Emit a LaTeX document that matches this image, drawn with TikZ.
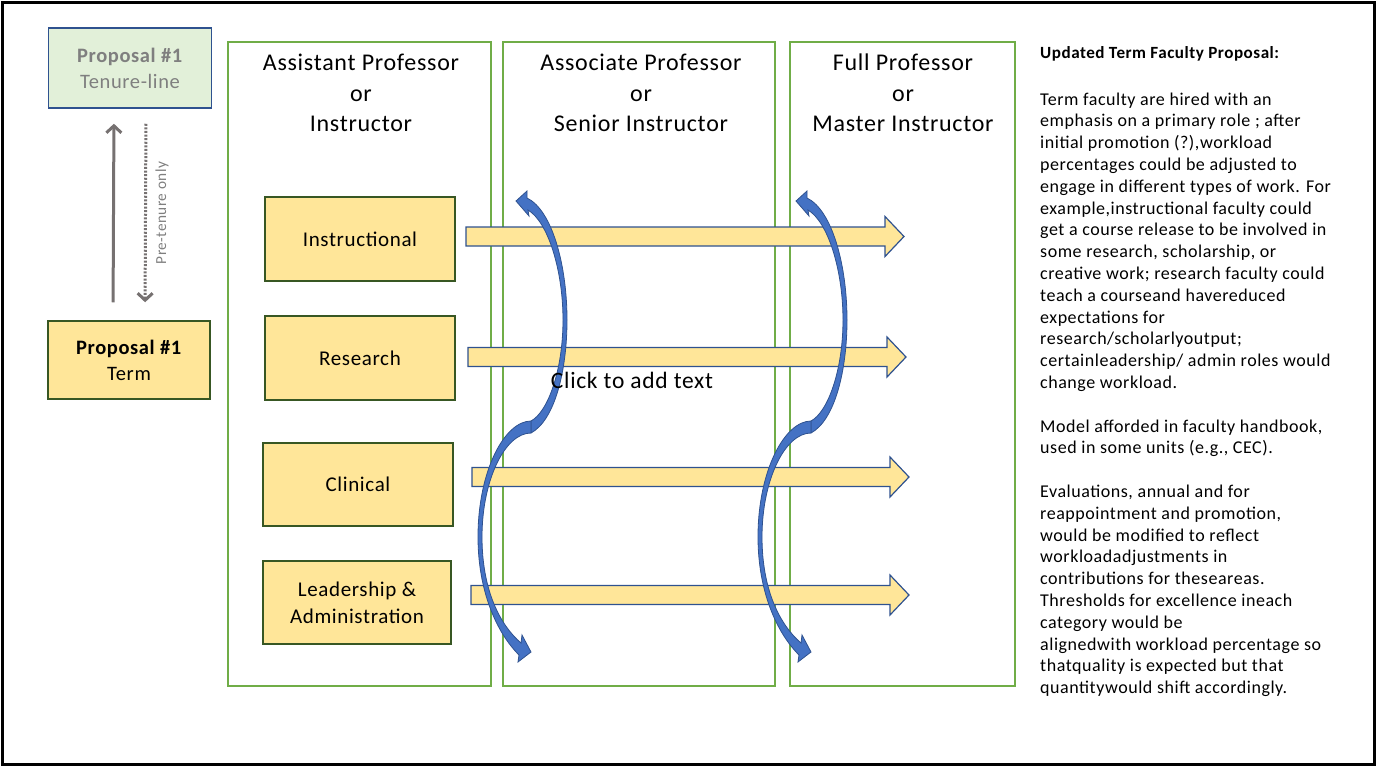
\documentclass[tikz,border=0pt]{standalone}
\usepackage{fontspec}
\setmainfont[LetterSpace=3]{Carlito}
\usetikzlibrary{arrows.meta}
\definecolor{colgreen}{HTML}{70AD47}
\definecolor{boxyellow}{HTML}{FFE699}
\definecolor{boxborder}{HTML}{385723}
\definecolor{tenfill}{HTML}{E2F0D9}
\definecolor{tenborder}{HTML}{2F528F}
\definecolor{graytext}{HTML}{7F7F7F}
\definecolor{grayarrow}{HTML}{767171}
\definecolor{bluefill}{HTML}{4472C4}
\definecolor{blueborder}{HTML}{2F528F}
\tikzset{
  colbox/.style={draw=colgreen, line width=1.5},
  header/.style={align=center, inner sep=0, font=\fontsize{24}{30.5}\selectfont},
  catbox/.style={draw=boxborder, fill=boxyellow, line width=1.5, align=center, inner sep=0,
     font=\fontsize{21}{27}\selectfont},
  propbox/.style={line width=1.5, align=center, inner sep=0, minimum width=163, minimum height=80,
     font=\fontsize{20.5}{26}\selectfont},
  yarrow/.style={draw=blueborder, fill=boxyellow, line width=1.2},
  barrow/.style={draw=blueborder, fill=bluefill, line width=0.8},
  grayarr/.style={draw=grayarrow, line width=3, -{Straight Barb[length=7,width=15,line width=3]}},
  bodytext/.style={anchor=base west, inner sep=0, font=\fontsize{18}{21.8}\selectfont},
}
\newcommand{\yellowarrow}[4]{%
  \draw[yarrow] (#1,#3-9.5) -- (#2-19,#3-9.5) -- (#2-19,#3-20) -- (#2,#3) -- (#2-19,#3+20)
     -- (#2-19,#3+9.5) -- (#1,#3+9.5) -- cycle;}
\newcommand{\sarrow}[1]{%
  \begin{scope}[xshift=#1]
  \draw[barrow] (527,198) .. controls (552,210) and (567,265) .. (567,320)
     .. controls (567,370) and (555,420) .. (531,433) -- (531,421)
     .. controls (548,412) and (563,370) .. (563,320)
     .. controls (563,270) and (548,222) .. (528,210) -- (529,216) -- (516,201) -- (527,191) -- cycle;
  \draw[barrow] (531,421) .. controls (505,421) and (478,470) .. (478,537)
     .. controls (478,590) and (496,632) .. (519,655) -- (518,662) -- (531,652) -- (522,635) -- (521,643)
     .. controls (500,625) and (482,590) .. (482,537)
     .. controls (482,480) and (505,433) .. (531,433) -- cycle;
  \end{scope}}
\begin{document}
\begin{tikzpicture}[x=1pt,y=-1pt]
\useasboundingbox (0,0) rectangle (1377,766);
\draw[line width=3] (2,2) rectangle (1374.5,764);

% left proposal boxes
\node[propbox, draw=tenborder, fill=tenfill, text=graytext] (tl) at (130,68)
  {\textbf{Proposal \#1}\\Tenure-line};
\node[propbox, draw=boxborder, fill=boxyellow, minimum width=162, minimum height=78] (tm) at (129,360)
  {\textbf{Proposal \#1}\\Term};
\draw[grayarr] ([xshift=-16]tm.north) -- ([xshift=-16]tl.south) [shorten <=18, shorten >=15];
\draw[grayarr, dash pattern=on 2pt off 1.6pt] ([xshift=16]tl.south) -- ([xshift=16]tm.north) [shorten <=15, shorten >=18];
\node[rotate=90, text=graytext, font=\fontsize{15.3}{17}\selectfont, inner sep=0] (pt) at (162,213) {Pre-tenure only};

% columns
\draw[colbox] (228,42) rectangle (491,686);
\draw[colbox] (503,42) rectangle (775,686);
\draw[colbox] (790,42) rectangle (1015,686);
\node[header] (h1) at (361,93) {Assistant Professor\\or\\Instructor};
\node[header] (h2) at (641,93) {Associate Professor\\or\\Senior Instructor};
\node[header] (h3) at (903,93) {Full Professor\\or\\Master Instructor};

% category boxes
\node[catbox, minimum width=190, minimum height=84] (c1) at (360,239) {Instructional};
\node[catbox, minimum width=190, minimum height=84] (c2) at (360,358) {Research};
\node[catbox, minimum width=190, minimum height=83] (c3) at (358,484.5) {Clinical};
\node[catbox, minimum width=188, minimum height=83] (c4) at (357,602.5) {Leadership \&\\Administration};

% yellow block arrows
\yellowarrow{466}{904}{236.5}{}
\yellowarrow{468}{906}{357}{}
\yellowarrow{472}{909}{477}{}
\yellowarrow{471}{909}{595}{}

% blue curved arrows
\sarrow{0}
\sarrow{280}

\node[inner sep=0, font=\fontsize{23.5}{27}\selectfont] (click) at (632,380) {Click to add text};

% right text
\node[anchor=base west, inner sep=0, font=\fontsize{17.1}{20}\selectfont\bfseries] (title) at (1040,58)
  {Updated Term Faculty Proposal:};
\foreach \t [count=\i from 0] in {
  Term faculty are hired with an,
  emphasis on a primary role ; after,
  {initial promotion (?),workload},
  percentages could be adjusted to,
  engage in different types of work. For,
  {example,instructional faculty could},
  get a course release to be involved in,
  {some research, scholarship, or},
  creative work; research faculty could,
  teach a courseand havereduced,
  expectations for,
  research/scholarlyoutput;,
  certainleadership/ admin roles would,
  change workload.,
  {},
  {Model afforded in faculty handbook,},
  {used in some units (e.g., CEC).},
  {},
  {Evaluations, annual and for},
  {reappointment and promotion,},
  would be modified to reflect,
  workloadadjustments in,
  contributions for theseareas.,
  Thresholds for excellence ineach,
  category would be,
  alignedwith workload percentage so,
  thatquality is expected but that,
  quantitywould shift accordingly.}
  \node[bodytext] (b\i) at (1040,105+\i*21.8) {\t};
\end{tikzpicture}
\end{document}
